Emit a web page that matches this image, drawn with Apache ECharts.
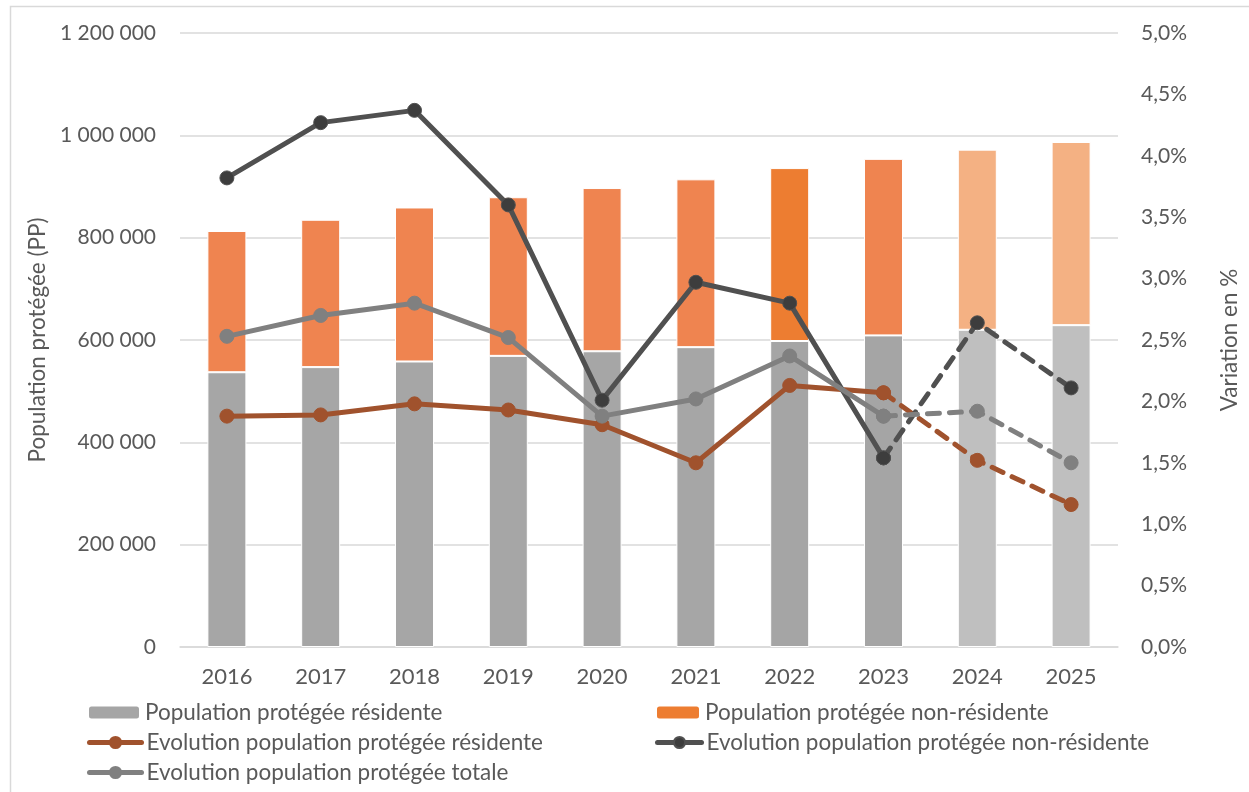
<!DOCTYPE html>
<html>
<head>
<meta charset="utf-8">
<script src="https://cdn.jsdelivr.net/npm/echarts@6/dist/echarts.min.js"></script>
<style>
  html, body { margin: 0; padding: 0; background: #fff; }
  #chart { width: 1249px; height: 792px; }
</style>
</head>
<body>
<div id="chart"></div>
<script>
// Années
const years = ['2016', '2017', '2018', '2019', '2020', '2021', '2022', '2023', '2024', '2025'];

// Population protégée (PP)
const residents    = [537000, 547000, 558000, 569000, 578000, 586000, 598000, 609000, 620000, 629000];
const nonResidents = [276000, 288000, 301000, 310000, 319000, 328000, 338000, 345000, 352000, 358000];

// Variation annuelle en %
const evolResidents    = [1.88, 1.89, 1.98, 1.93, 1.81, 1.50, 2.13, 2.07, 1.52, 1.16];
const evolNonResidents = [3.82, 4.27, 4.37, 3.60, 2.01, 2.97, 2.80, 1.54, 2.64, 2.11];
const evolTotale       = [2.53, 2.70, 2.80, 2.52, 1.88, 2.02, 2.37, 1.88, 1.92, 1.50];

// Index de la dernière année en trait plein (2023) : la suite est en pointillés
const dashFrom = 7;

// Couleurs des barres par année
const greyShades   = ['#A6A6A6', '#A6A6A6', '#A6A6A6', '#A6A6A6', '#A6A6A6', '#A6A6A6', '#A5A5A5', '#A5A5A5', '#BFBFBF', '#BFBFBF'];
const orangeShades = ['#EF8450', '#EF8450', '#EF8450', '#EF8450', '#EF8450', '#EF8450', '#ED7D31', '#EF8450', '#F4B183', '#F4B183'];

const FONT = 'Lato';
const TXT = '#595959';

const fmtThousands = v => String(v).replace(/\B(?=(\d{3})+(?!\d))/g, ' ');
const fmtPct = v => v.toFixed(1).replace('.', ',') + '%';

function solidPart(arr) { return arr.map((v, i) => (i <= dashFrom ? v : null)); }
function dashedPart(arr) { return arr.map((v, i) => (i >= dashFrom ? v : null)); }

function barData(values, colors) {
  return values.map((v, i) => ({ value: v, itemStyle: { color: colors[i] } }));
}

const NAME_RES = 'Population protégée résidente';
const NAME_NONRES = 'Population protégée non-résidente';
const NAME_EV_RES = 'Evolution population protégée résidente';
const NAME_EV_NONRES = 'Evolution population protégée non-résidente';
const NAME_EV_TOT = 'Evolution population protégée totale';

function lineSeries(name, values, color, markerColor, dashed) {
  return {
    name: name,
    type: 'line',
    yAxisIndex: 1,
    data: dashed ? dashedPart(values) : solidPart(values),
    symbol: 'circle',
    symbolSize: 14,
    lineStyle: { color: color, width: 5, type: dashed ? [12, 10] : 'solid', cap: 'round' },
    itemStyle: { color: markerColor, borderColor: color, borderWidth: 1 },
    color: color,
    z: 3,
    animation: false
  };
}

function legendAt(name, left, top, w) {
  return {
    data: [name],
    left: left,
    top: top,
    padding: 0,
    itemWidth: w,
    itemHeight: 14,
    itemGap: 0,
    selectedMode: false,
    lineStyle: { width: 5 },
    textStyle: { fontFamily: FONT, fontSize: 22.5, color: TXT, padding: [0, 0, 0, 0] }
  };
}

const chart = echarts.init(document.getElementById('chart'), null, { renderer: 'canvas' });

chart.setOption({
  animation: false,
  backgroundColor: '#fff',
  textStyle: { fontFamily: FONT, color: TXT },
  graphic: [{
    type: 'rect',
    shape: { x: 10.5, y: 6.5, width: 1260, height: 820 },
    style: { fill: 'none', stroke: '#D9D9D9', lineWidth: 1.5 },
    silent: true
  }],
  grid: { left: 180, right: 129, top: 33, bottom: 145, containLabel: false },
  legend: [
    legendAt(NAME_RES, 87, 701, 52),
    legendAt(NAME_NONRES, 655, 701, 44),
    legendAt(NAME_EV_RES, 87, 731, 52),
    legendAt(NAME_EV_NONRES, 655, 731, 44),
    legendAt(NAME_EV_TOT, 87, 761, 52)
  ],
  xAxis: {
    type: 'category',
    data: years,
    axisLine: { lineStyle: { color: '#D9D9D9', width: 1.5 } },
    axisTick: { show: false },
    axisLabel: { fontFamily: FONT, fontSize: 22, color: TXT, margin: 19 }
  },
  yAxis: [
    {
      type: 'value',
      min: 0,
      max: 1200000,
      interval: 200000,
      name: 'Population protégée (PP)',
      nameLocation: 'middle',
      nameGap: 130,
      nameRotate: 90,
      nameTextStyle: { fontFamily: FONT, fontSize: 22.5, color: TXT },
      axisLine: { show: false },
      axisTick: { show: false },
      axisLabel: { fontFamily: FONT, fontSize: 21, color: TXT, margin: 24, formatter: fmtThousands },
      splitLine: { lineStyle: { color: '#D9D9D9', width: 1.5 } }
    },
    {
      type: 'value',
      min: 0,
      max: 5,
      interval: 0.5,
      name: 'Variation en %',
      nameLocation: 'middle',
      nameGap: 100,
      nameRotate: 90,
      nameTextStyle: { fontFamily: FONT, fontSize: 22.5, color: TXT },
      axisLine: { show: false },
      axisTick: { show: false },
      axisLabel: { fontFamily: FONT, fontSize: 21, color: TXT, margin: 23, formatter: fmtPct },
      splitLine: { show: false }
    }
  ],
  series: [
    {
      name: NAME_RES,
      type: 'bar',
      stack: 'pp',
      barWidth: 39,
      data: barData(residents, greyShades),
      color: '#A5A5A5',
      itemStyle: { borderColor: '#fff', borderWidth: 1 },
      z: 2
    },
    {
      name: NAME_NONRES,
      type: 'bar',
      stack: 'pp',
      barWidth: 39,
      data: barData(nonResidents, orangeShades),
      color: '#ED7D31',
      itemStyle: { borderColor: '#fff', borderWidth: 1 },
      z: 2
    },
    lineSeries(NAME_EV_RES, evolResidents, '#A0522D', '#A0522D', false),
    lineSeries(NAME_EV_RES, evolResidents, '#A0522D', '#A0522D', true),
    lineSeries(NAME_EV_NONRES, evolNonResidents, '#505050', '#3D3D3D', false),
    lineSeries(NAME_EV_NONRES, evolNonResidents, '#505050', '#3D3D3D', true),
    lineSeries(NAME_EV_TOT, evolTotale, '#808080', '#808080', false),
    lineSeries(NAME_EV_TOT, evolTotale, '#808080', '#808080', true)
  ]
});
</script>
</body>
</html>
